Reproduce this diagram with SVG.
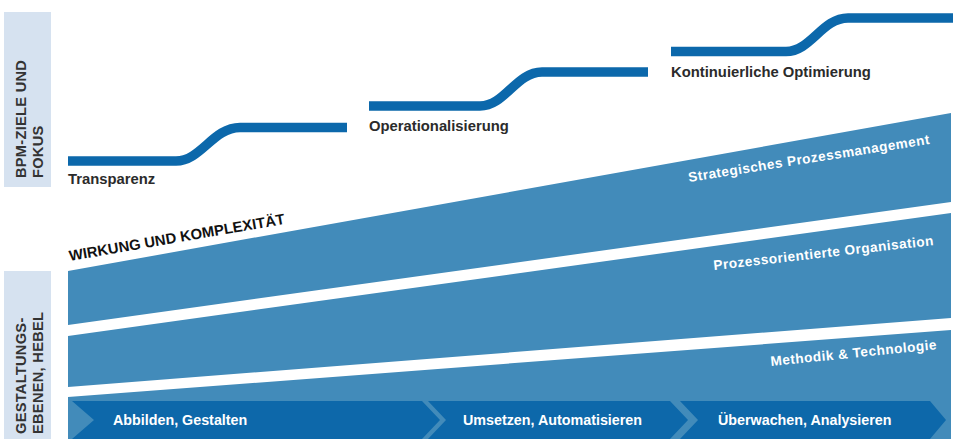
<svg xmlns="http://www.w3.org/2000/svg" width="953" height="439" viewBox="0 0 953 439">
  <style>
    .side { fill: #d6e2f0; }
    .side-text { font-family: "Liberation Sans", Arial, sans-serif; font-weight: bold; font-size: 14.6px; fill: #333333; letter-spacing: 0.3px; }
    .step { fill: none; stroke: #0c68ab; stroke-width: 9.5; }
    .goal { font-family: "Liberation Sans", Arial, sans-serif; font-weight: bold; font-size: 14.8px; fill: #2b2b2b; }
    .band { fill: #428bba; }
    .band-text { font-family: "Liberation Sans", Arial, sans-serif; font-weight: bold; font-size: 13.6px; fill: #ffffff; letter-spacing: 0.5px; }
    .chev { fill: #0d68aa; }
    .chev-text { font-family: "Liberation Sans", Arial, sans-serif; font-weight: bold; font-size: 14.3px; fill: #ffffff; }
    .axis { font-family: "Liberation Sans", Arial, sans-serif; font-weight: bold; font-size: 14.8px; fill: #111111; }
  </style>

  <rect width="953" height="439" fill="#ffffff"/>

  <!-- Side headers -->
  <g id="side-goals">
    <rect class="side" x="4" y="12" width="47" height="175"/>
    <g transform="translate(26,178) rotate(-90)">
      <text class="side-text" x="0" y="0">BPM-ZIELE UND</text>
      <text class="side-text" x="0" y="17">FOKUS</text>
    </g>
  </g>
  <g id="side-levers">
    <rect class="side" x="4" y="271" width="47" height="168"/>
    <g transform="translate(26,434) rotate(-90)">
      <text class="side-text" x="0" y="0">GESTALTUNGS-</text>
      <text class="side-text" x="0" y="17">EBENEN, HEBEL</text>
    </g>
  </g>

  <!-- Goal steps -->
  <g id="goal-transparenz">
    <path class="step" d="M68,161 H176 C201,161 213,127.5 240,127.5 H347"/>
    <text class="goal" x="68" y="184">Transparenz</text>
  </g>
  <g id="goal-operationalisierung">
    <path class="step" d="M369,106 H480 C505,106 516,72 542,72 H648"/>
    <text class="goal" x="369" y="131">Operationalisierung</text>
  </g>
  <g id="goal-optimierung">
    <path class="step" d="M671,51.5 H786 C811,51.5 822,18 848,18 H953"/>
    <text class="goal" x="671" y="77">Kontinuierliche Optimierung</text>
  </g>

  <!-- Design levels -->
  <g id="level-strategie">
    <polygon class="band" points="68,271 951,113 951,202 68,325"/>
    <text class="band-text" transform="translate(689,182) rotate(-9)">Strategisches Prozessmanagement</text>
  </g>
  <g id="level-organisation">
    <polygon class="band" points="68,336 951,213 951,318 68,387"/>
    <text class="band-text" transform="translate(714,270) rotate(-6.5)">Prozessorientierte Organisation</text>
  </g>
  <g id="level-methodik">
    <polygon class="band" points="68,397 951,330 951,439 68,439"/>
    <text class="band-text" transform="translate(771,366) rotate(-5.8)">Methodik &amp; Technologie</text>
  </g>

  <!-- Phase chevrons -->
  <g id="phase-abbilden">
    <polygon class="chev" points="72,401 422,401 440,420 422,439 72,439 94,420"/>
    <text class="chev-text" x="113" y="425">Abbilden, Gestalten</text>
  </g>
  <g id="phase-umsetzen">
    <polygon class="chev" points="428,401 670,401 688,420 670,439 428,439 446,420"/>
    <text class="chev-text" x="463" y="425">Umsetzen, Automatisieren</text>
  </g>
  <g id="phase-ueberwachen">
    <polygon class="chev" points="680,401 930,401 946,420 930,439 680,439 698,420"/>
    <text class="chev-text" x="718" y="425">Überwachen, Analysieren</text>
  </g>

  <!-- Axis label -->
  <g id="axis-wirkung">
    <text class="axis" transform="translate(70,261) rotate(-9.8)">WIRKUNG UND KOMPLEXITÄT</text>
  </g>

  <g id="connectors"/>
</svg>
